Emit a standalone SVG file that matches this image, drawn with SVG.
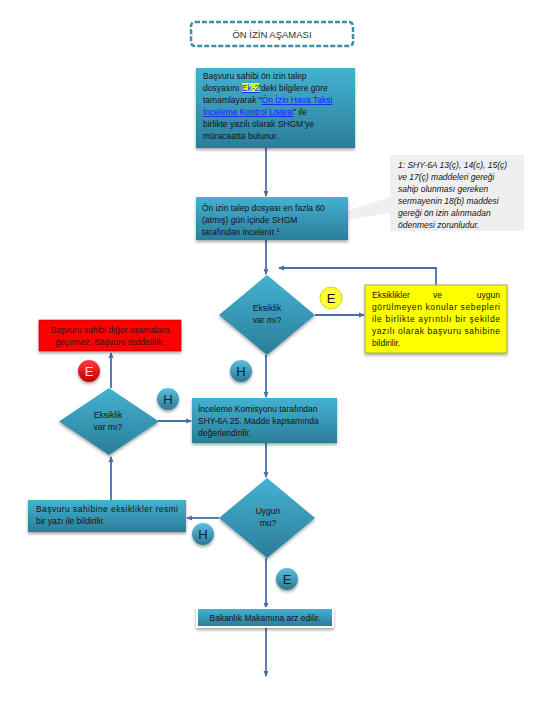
<svg xmlns="http://www.w3.org/2000/svg" width="540" height="720" viewBox="0 0 540 720">
<defs>
<linearGradient id="teal" x1="0" y1="0" x2="0" y2="1"><stop offset="0" stop-color="#44b2d2"/><stop offset="1" stop-color="#2b7d99"/></linearGradient>
<linearGradient id="tealc" x1="0" y1="0" x2="0" y2="1"><stop offset="0" stop-color="#5cc0dc"/><stop offset="1" stop-color="#2a7892"/></linearGradient>
<linearGradient id="redc" x1="0" y1="0" x2="0" y2="1"><stop offset="0" stop-color="#ff3a3a"/><stop offset="1" stop-color="#c00000"/></linearGradient>
<filter id="sh" x="-20%" y="-20%" width="140%" height="150%"><feDropShadow dx="0" dy="2" stdDeviation="1.5" flood-color="#000" flood-opacity="0.35"/></filter>
<marker id="ar" viewBox="0 0 6 6" refX="5" refY="3" markerWidth="6" markerHeight="6" markerUnits="userSpaceOnUse" orient="auto"><path d="M0,0.5 L6,3 L0,5.5 Z" fill="#4a6ea8"/></marker>
</defs>
<style>
text{font-family:"Liberation Sans",Arial,sans-serif;font-size:8.5px;fill:#141414}
.c{text-anchor:middle}
.box{fill:url(#teal);filter:url(#sh)}
.con{stroke:#4a6ea8;stroke-width:1.8;fill:none;marker-end:url(#ar)}
.lbl{font-size:13px;text-anchor:middle}
.lk{fill:#1a1aff;text-decoration:underline}
.it{font-style:italic;font-size:8.5px}
</style>
<rect width="540" height="720" fill="#ffffff"/>

<g id="title">
<rect x="191" y="22" width="162" height="24" rx="4" fill="#fff" stroke="#3d8ea6" stroke-width="2.5" stroke-dasharray="5 2"/>
<text x="272" y="38" class="c" style="font-size:9.5px;fill:#333">ÖN İZİN AŞAMASI</text>
</g>

<g id="connectors">
<path class="con" d="M266,148 V196"/>
<path class="con" d="M266,240 V274"/>
<path class="con" d="M436,285 V268 H279"/>
<path class="con" d="M315,315 H364"/>
<path class="con" d="M266,355 V397"/>
<path class="con" d="M111,388 V353"/>
<path class="con" d="M158,421 H191"/>
<path class="con" d="M111,500 V457"/>
<path class="con" d="M266,443 V477"/>
<path class="con" d="M219,518 H187"/>
<path class="con" d="M266,558 V608"/>
<path class="con" d="M266,626 V676"/>
</g>

<g id="n1">
<rect class="box" x="196" y="68" width="159" height="80"/>
<text x="203" y="79">Başvuru sahibi ön izin talep</text>
<rect x="242" y="83" width="17" height="9" fill="#ccff33"/>
<text x="203" y="91">dosyasını <tspan class="lk">Ek-2</tspan>’deki bilgilere göre</text>
<text x="203" y="103">tamamlayarak “<tspan class="lk">Ön İzin Hava Taksi</tspan></text>
<text x="203" y="115"><tspan class="lk">İnceleme Kontrol Listesi</tspan>” ile</text>
<text x="203" y="127">birlikte yazılı olarak SHGM’ye</text>
<text x="203" y="139">müracaatta bulunur.</text>
</g>

<g id="callout">
<path d="M390,155 H524 V231 H390 V213 L290,229 L390,197 Z" fill="#efefef"/>
<text x="398" y="168" class="it">1: SHY-6A 13(ç), 14(c), 15(ç)</text>
<text x="398" y="180" class="it">ve 17(ç) maddeleri gereği</text>
<text x="398" y="192" class="it">sahip olunması gereken</text>
<text x="398" y="204" class="it">sermayenin 18(b) maddesi</text>
<text x="398" y="216" class="it">gereği ön izin alınmadan</text>
<text x="398" y="228" class="it">ödenmesi zorunludur.</text>
</g>

<g id="n2">
<rect class="box" x="196" y="197" width="152" height="43"/>
<text x="202" y="211">Ön izin talep dosyası en fazla 60</text>
<text x="202" y="223">(atmış) gün içinde SHGM</text>
<text x="202" y="235">tarafından incelenir.<tspan dy="-3" style="font-size:6px">1</tspan></text>
</g>

<g id="d1">
<path class="box" d="M267,275 L315,315 L267,355 L219,315 Z"/>
<text x="267" y="311" class="c">Eksiklik</text>
<text x="267" y="323" class="c">var mı?</text>
</g>

<g id="e1">
<circle cx="331" cy="298" r="11" fill="#ffff33" stroke="#c8c800" stroke-width="0.8"/>
<text x="331" y="303" class="lbl">E</text>
</g>

<g id="yellow">
<rect x="365" y="285" width="142" height="68" fill="#ffff00" stroke="#8a9a5a" stroke-width="0.8" filter="url(#sh)"/>
<text x="372" y="298">Eksiklikler</text>
<text x="433" y="298">ve</text>
<text x="500" y="298" style="text-anchor:end">uygun</text>
<text x="372" y="310" textLength="128" lengthAdjust="spacing">görülmeyen konular sebepleri</text>
<text x="372" y="322" textLength="128" lengthAdjust="spacing">ile birlikte ayrıntılı bir şekilde</text>
<text x="372" y="334" textLength="128" lengthAdjust="spacing">yazılı olarak başvuru sahibine</text>
<text x="372" y="346">bildirilir.</text>
</g>

<g id="red">
<rect x="39" y="320" width="142" height="31" fill="#ff0000" stroke="#b00000" stroke-width="0.6" filter="url(#sh)"/>
<text x="110" y="333" class="c" style="fill:#3a1010">Başvuru sahibi diğer aşamalara</text>
<text x="110" y="345" class="c" style="fill:#3a1010">geçemez.  Başvuru reddedilir.</text>
</g>

<g id="e2">
<circle cx="89" cy="371" r="11" fill="url(#redc)" filter="url(#sh)"/>
<text x="89" y="376" class="lbl" style="fill:#ffe0e0">E</text>
</g>

<g id="h1">
<circle cx="241" cy="371" r="11" fill="url(#tealc)" filter="url(#sh)"/>
<text x="241" y="376" class="lbl" style="fill:#0b2236">H</text>
</g>

<g id="d2">
<path class="box" d="M109,388 L159,421.5 L109,455 L59,421.5 Z"/>
<text x="108" y="418" class="c">Eksiklik</text>
<text x="108" y="430" class="c">var mı?</text>
</g>

<g id="h2">
<circle cx="168" cy="399" r="11" fill="url(#tealc)" filter="url(#sh)"/>
<text x="168" y="404" class="lbl" style="fill:#0b2236">H</text>
</g>

<g id="n3">
<rect class="box" x="192" y="398" width="145" height="45"/>
<text x="198" y="412">İnceleme Komisyonu tarafından</text>
<text x="198" y="424">SHY-6A 25. Madde kapsamında</text>
<text x="198" y="436">değerlendirilir.</text>
</g>

<g id="d3">
<path class="box" d="M267,478 L315,518 L267,558 L219,518 Z"/>
<text x="268" y="514" class="c">Uygun</text>
<text x="268" y="526" class="c">mu?</text>
</g>

<g id="n4">
<rect class="box" x="28" y="500" width="158" height="32"/>
<text x="36" y="512" textLength="142" lengthAdjust="spacing">Başvuru sahibine eksiklikler resmi</text>
<text x="36" y="524">bir yazı ile bildirilir.</text>
</g>

<g id="h3">
<circle cx="203" cy="534" r="11" fill="url(#tealc)" filter="url(#sh)"/>
<text x="203" y="539" class="lbl" style="fill:#0b2236">H</text>
</g>

<g id="e3">
<circle cx="287" cy="579" r="11" fill="url(#tealc)" filter="url(#sh)"/>
<text x="287" y="584" class="lbl" style="fill:#0b2236">E</text>
</g>

<g id="n5">
<rect x="196" y="607" width="138" height="21" fill="#fff" filter="url(#sh)"/>
<rect x="198" y="609" width="134" height="17" fill="url(#teal)"/>
<text x="265" y="621" class="c">Bakanlık Makamına arz edilir.</text>
</g>
</svg>
